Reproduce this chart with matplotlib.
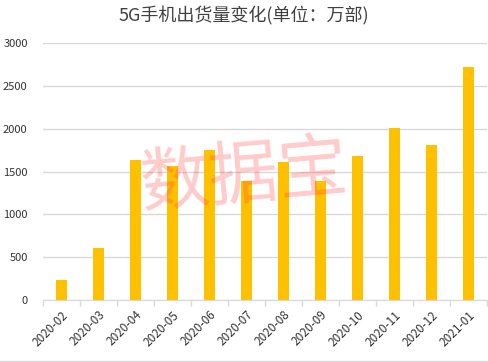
import numpy as np
import matplotlib.pyplot as plt

plt.rcParams['font.family'] = ['Noto Sans CJK SC', 'DejaVu Sans']

# 月份与出货量（万部）
months = ['2020-02', '2020-03', '2020-04', '2020-05', '2020-06', '2020-07',
          '2020-08', '2020-09', '2020-10', '2020-11', '2020-12', '2021-01']
shipments = [234, 612, 1630, 1560, 1750, 1385, 1610, 1390, 1680, 2010, 1810, 2720]
y_ticks = [0, 500, 1000, 1500, 2000, 2500, 3000]

fig = plt.figure(figsize=(4.88, 3.62), dpi=100)
ax = fig.add_axes([0.088, 0.171, 0.91, 0.71])

x = np.arange(len(months))
ax.bar(x, shipments, width=0.3, color='#FFC000', zorder=2)

ax.set_ylim(0, 3000)
ax.set_xlim(-0.5, len(months) - 0.5)
ax.set_yticks(y_ticks)
ax.yaxis.grid(True, color='#D9D9D9', linewidth=1, zorder=0)
ax.tick_params(axis='y', length=0, pad=11, labelsize=8, labelcolor='#333333')

ax.set_xticks(x)
ax.set_xticklabels(months, rotation=45, ha='right', rotation_mode='anchor')
ax.tick_params(axis='x', which='major', length=0, pad=6, labelsize=8.5, labelcolor='#333333')
ax.set_xticks(np.arange(-0.5, len(months), 1), minor=True)
ax.tick_params(axis='x', which='minor', length=4, color='#D9D9D9', width=1)

for side in ['top', 'right', 'left']:
    ax.spines[side].set_visible(False)
ax.spines['bottom'].set_color('#D9D9D9')

fig.text(0.5, 0.955, '5G手机出货量变化(单位：万部)', ha='center', va='center',
         fontsize=13, color='#404040')

# 水印
fig.text(0.50, 0.51, '数据宝', ha='center', va='center', fontsize=50,
         color='#FF4444', alpha=0.28, rotation=5, zorder=5)

fig.add_artist(plt.Line2D([0, 1], [0.003, 0.003], color='#D9D9D9', linewidth=1))

fig.savefig('out.png', dpi=100)
